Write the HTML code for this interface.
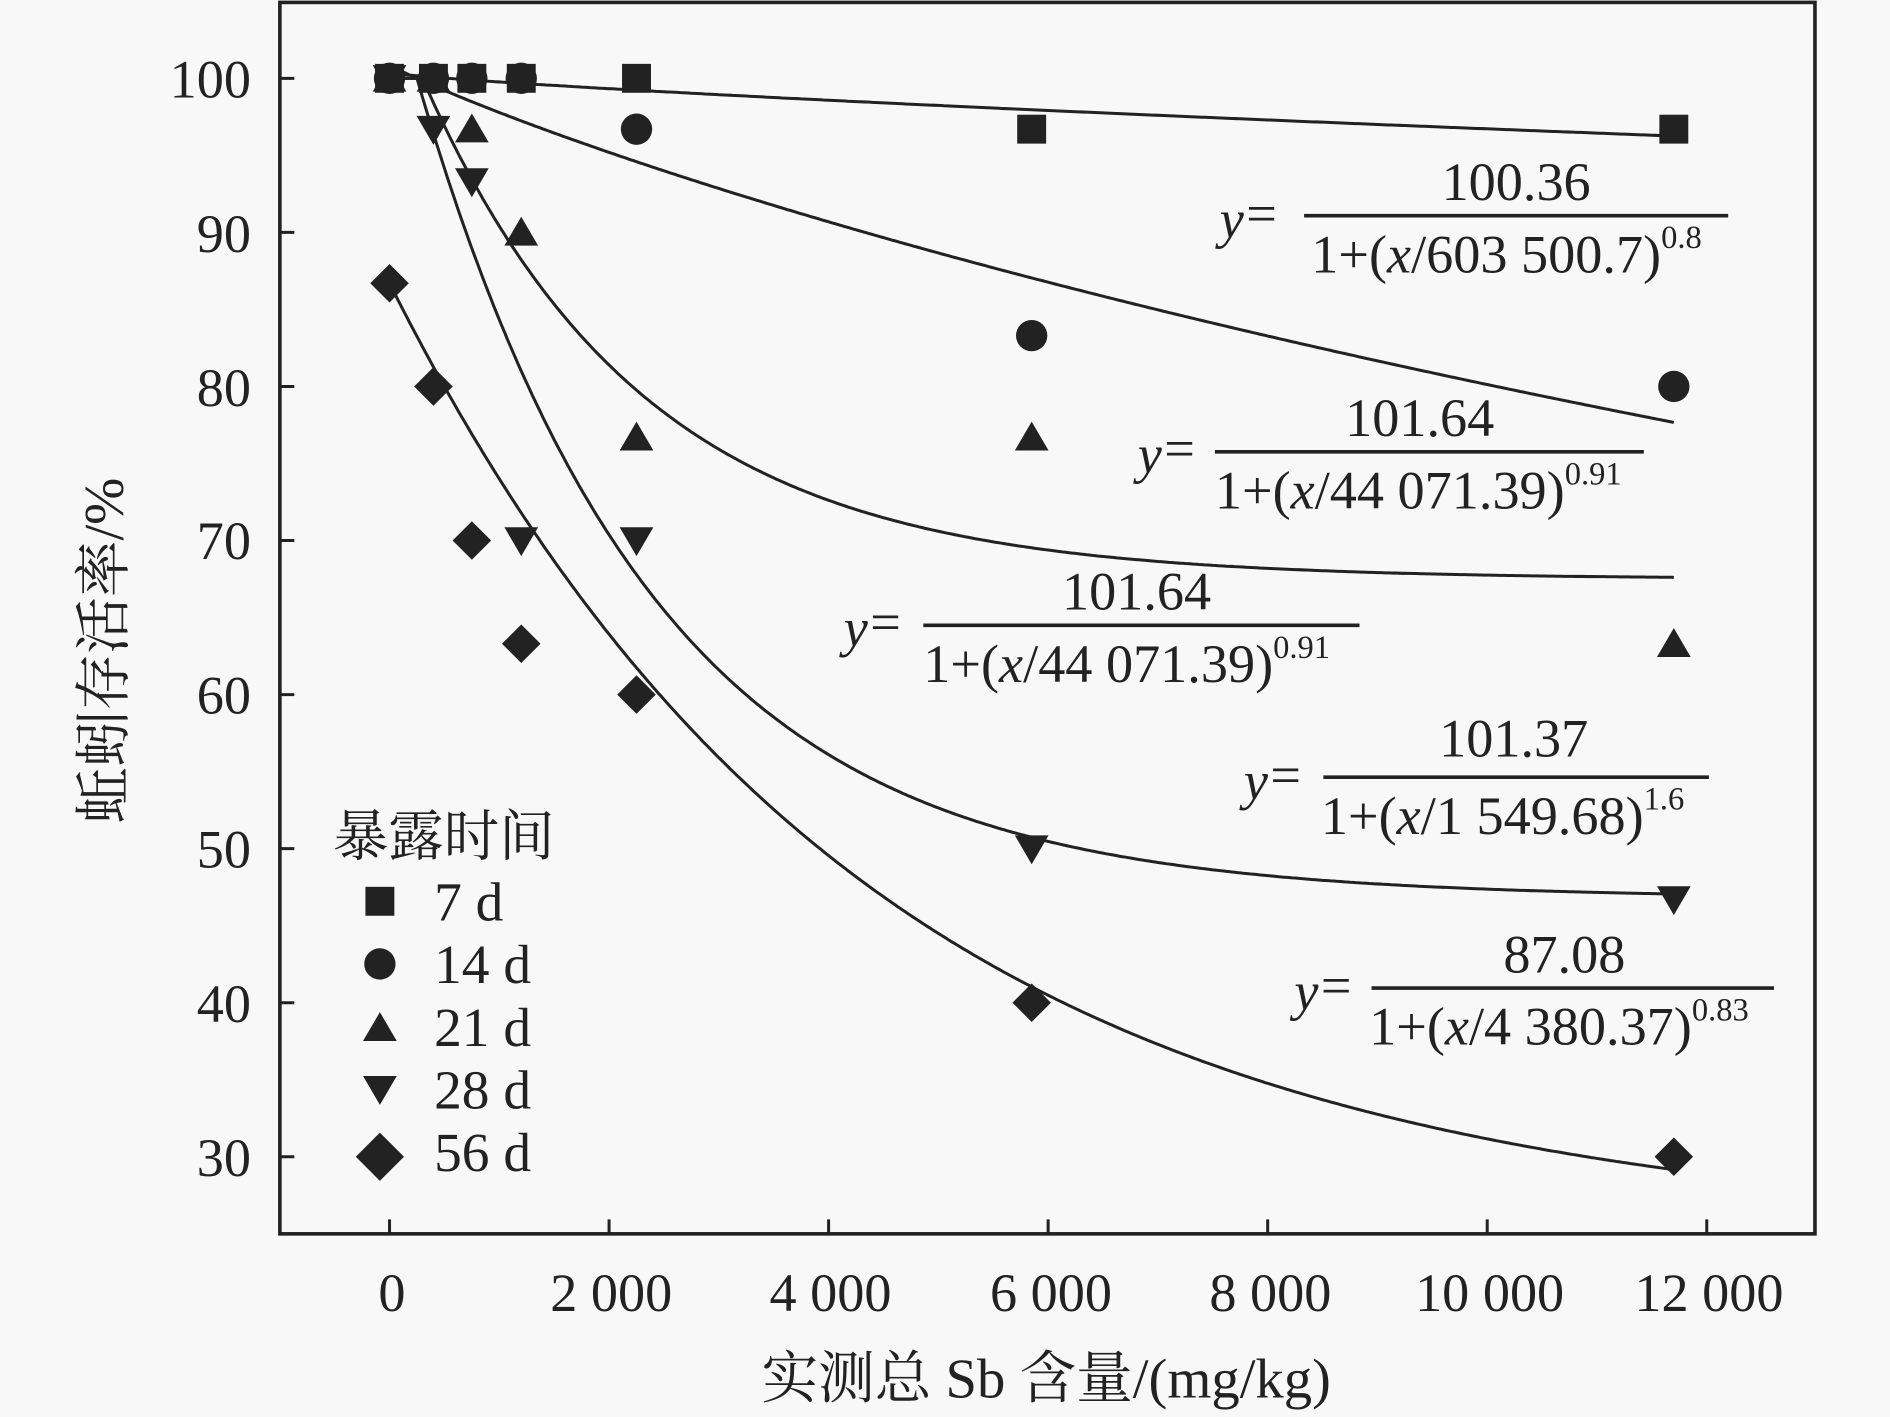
<!DOCTYPE html>
<html><head><meta charset="utf-8"><style>
html,body{margin:0;padding:0;background:#f8f8f8;}
svg{display:block;}
text{font-family:"Liberation Serif","Noto Serif CJK SC",serif;fill:#222;}
</style></head><body>
<svg id="s" width="1890" height="1417" viewBox="0 0 1568 1176" xmlns="http://www.w3.org/2000/svg">
<rect x="0" y="0" width="1568" height="1176" fill="#f8f8f8"/>
<rect x="232" y="2" width="1274" height="1022" fill="none" stroke="#222" stroke-width="3"/>
<g id="ticks" stroke="#222" stroke-width="2.5"></g>
<g font-size="45">
<text x="325" y="1088" text-anchor="middle">0</text>
<text x="507" y="1088" text-anchor="middle">2 000</text>
<text x="689" y="1088" text-anchor="middle">4 000</text>
<text x="872" y="1088" text-anchor="middle">6 000</text>
<text x="1054" y="1088" text-anchor="middle">8 000</text>
<text x="1236" y="1088" text-anchor="middle">10 000</text>
<text x="1418" y="1088" text-anchor="middle">12 000</text>
</g>
<g font-size="45" text-anchor="end">
<text x="208" y="81">100</text>
<text x="208" y="209">90</text>
<text x="208" y="337">80</text>
<text x="208" y="464">70</text>
<text x="208" y="592">60</text>
<text x="208" y="720">50</text>
<text x="208" y="848">40</text>
<text x="208" y="976">30</text>
</g>
<text x="868" y="1160" font-size="47" text-anchor="middle">实测总 Sb 含量/(mg/kg)</text>
<text transform="translate(102,540) rotate(-90)" font-size="47" text-anchor="middle">蚯蚓存活率/%</text>
<g id="curves" fill="none" stroke="#222" stroke-width="2.5"></g>
<g id="pts" fill="#222"></g>
<!-- legend -->
<g font-size="46">
<text x="276" y="710">暴露时间</text>
<text x="360" y="764">7 d</text>
<text x="360" y="816">14 d</text>
<text x="360" y="868">21 d</text>
<text x="360" y="920">28 d</text>
<text x="360" y="972">56 d</text>
</g>
<g fill="#222">
<rect x="303" y="736" width="24" height="24"/>
<circle cx="315" cy="800" r="13"/>
<polygon points="315,840 301,864 329,864"/>
<polygon points="301,893 329,893 315,917"/>
<polygon points="315,940 335,960 315,980 295,960"/>
</g>
<!-- equations -->
<g font-size="45">
<text x="1012" y="197" font-style="italic">y</text><text x="1034" y="192">=</text>
<line x1="1082" y1="179" x2="1434" y2="179" stroke="#222" stroke-width="3"/>
<text x="1258" y="166" text-anchor="middle">100.36</text>
<text x="1088" y="226">1+(<tspan font-style="italic">x</tspan>/603 500.7)<tspan font-size="27" dy="-20">0.8</tspan></text>

<text x="944" y="392" font-style="italic">y</text><text x="966" y="387">=</text>
<line x1="1008" y1="375" x2="1364" y2="375" stroke="#222" stroke-width="3"/>
<text x="1178" y="362" text-anchor="middle">101.64</text>
<text x="1008" y="422">1+(<tspan font-style="italic">x</tspan>/44 071.39)<tspan font-size="27" dy="-20">0.91</tspan></text>

<text x="700" y="536" font-style="italic">y</text><text x="722" y="531">=</text>
<line x1="766" y1="519" x2="1128" y2="519" stroke="#222" stroke-width="3"/>
<text x="943" y="506" text-anchor="middle">101.64</text>
<text x="766" y="566">1+(<tspan font-style="italic">x</tspan>/44 071.39)<tspan font-size="27" dy="-20">0.91</tspan></text>

<text x="1032" y="663" font-style="italic">y</text><text x="1054" y="658">=</text>
<line x1="1098" y1="645" x2="1418" y2="645" stroke="#222" stroke-width="3"/>
<text x="1256" y="628" text-anchor="middle">101.37</text>
<text x="1096" y="692">1+(<tspan font-style="italic">x</tspan>/1 549.68)<tspan font-size="27" dy="-20">1.6</tspan></text>

<text x="1074" y="838" font-style="italic">y</text><text x="1096" y="833">=</text>
<line x1="1138" y1="820" x2="1472" y2="820" stroke="#222" stroke-width="3"/>
<text x="1298" y="807" text-anchor="middle">87.08</text>
<text x="1136" y="867">1+(<tspan font-style="italic">x</tspan>/4 380.37)<tspan font-size="27" dy="-20">0.83</tspan></text>
</g>
</svg>
<script>
var NS="http://www.w3.org/2000/svg";
function X(v){return 323+v*0.0911;}
function Y(v){return 65+(100-v)*12.786;}
function el(t,a,p){var e=document.createElementNS(NS,t);for(var k in a)e.setAttribute(k,a[k]);document.getElementById(p).appendChild(e);}
var tk="";
[0,2000,4000,6000,8000,10000,12000].forEach(function(v){tk+="M"+X(v)+",1024V1012";});
[100,90,80,70,60,50,40,30].forEach(function(v){tk+="M232,"+Y(v)+"H244";});
el("path",{d:tk},"ticks");
var fns=[
 function(x){return 100.36/(1+Math.pow(x/603500,0.8));},
 function(x){return 100.9/(1+Math.pow(x/44071,0.91));},
 function(x){var t=Math.max(0,x-300);return 67.5+32.5*Math.exp(-t/2000);},
 function(x){var t=Math.max(0,x-250);return 46.8+53.2*Math.exp(-t/2150);},
 function(x){return 25+61.7*Math.exp(-x/4340);}
];
fns.forEach(function(f){var d="";for(var x=0;x<=11700;x+=25){d+=(x?"L":"M")+X(x).toFixed(1)+","+Y(f(x)).toFixed(1);}el("path",{d:d},"curves");});
var xs=[0,400,750,1200,2250,5850,11700];
var data=[[100,100,100,100,100,96.7,96.7],[100,100,100,100,96.7,83.3,80],[100,100,96.7,90,76.7,76.7,63.3],[100,96.7,93.3,70,70,50,46.7],[86.7,80,70,63.3,60,40,30]];
data.forEach(function(s,i){s.forEach(function(v,j){var cx=X(xs[j]),cy=Y(v);
 if(i==0)el("rect",{x:cx-12,y:cy-12,width:24,height:24},"pts");
 else if(i==1)el("circle",{cx:cx,cy:cy,r:13},"pts");
 else if(i==2)el("polygon",{points:cx+","+(cy-13)+" "+(cx-14)+","+(cy+11)+" "+(cx+14)+","+(cy+11)},"pts");
 else if(i==3)el("polygon",{points:(cx-14)+","+(cy-11)+" "+(cx+14)+","+(cy-11)+" "+cx+","+(cy+13)},"pts");
 else el("polygon",{points:cx+","+(cy-16)+" "+(cx+16)+","+cy+" "+cx+","+(cy+16)+" "+(cx-16)+","+cy},"pts");
});});
</script>
</body></html>
